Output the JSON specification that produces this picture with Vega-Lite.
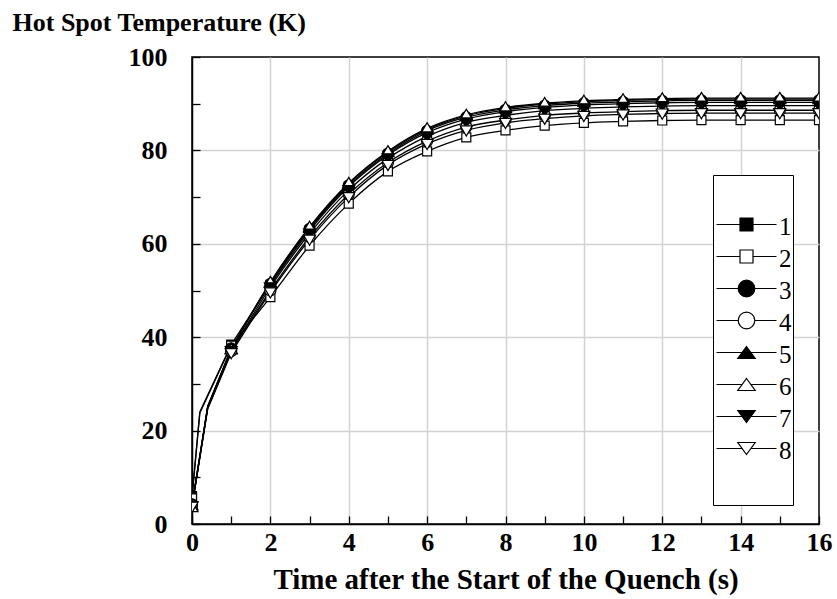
{
  "$schema": "https://vega.github.io/schema/vega-lite/v6.json",
  "width": 627,
  "height": 467,
  "autosize": "none",
  "padding": {"left": 192, "top": 57, "right": 18, "bottom": 75},
  "background": "white",
  "data": {"values": [
    {"s":"1","t":0,"v":6.0},{"s":"1","t":0.2,"v":24.0},{"s":"1","t":1,"v":38.4},{"s":"1","t":2,"v":51.2},{"s":"1","t":3,"v":62.8},{"s":"1","t":4,"v":72.2},{"s":"1","t":5,"v":79.0},{"s":"1","t":6,"v":83.8},{"s":"1","t":7,"v":86.7},{"s":"1","t":8,"v":88.3},{"s":"1","t":9,"v":89.2},{"s":"1","t":10,"v":89.7},{"s":"1","t":11,"v":90.0},{"s":"1","t":12,"v":90.2},{"s":"1","t":13,"v":90.3},{"s":"1","t":14,"v":90.3},{"s":"1","t":15,"v":90.3},{"s":"1","t":16,"v":90.3},
    {"s":"2","t":0,"v":5.5},{"s":"2","t":0.2,"v":23.8},{"s":"2","t":1,"v":38.2},{"s":"2","t":2,"v":48.6},{"s":"2","t":3,"v":59.6},{"s":"2","t":4,"v":68.6},{"s":"2","t":5,"v":75.5},{"s":"2","t":6,"v":79.8},{"s":"2","t":7,"v":82.8},{"s":"2","t":8,"v":84.3},{"s":"2","t":9,"v":85.3},{"s":"2","t":10,"v":85.9},{"s":"2","t":11,"v":86.2},{"s":"2","t":12,"v":86.4},{"s":"2","t":13,"v":86.5},{"s":"2","t":14,"v":86.5},{"s":"2","t":15,"v":86.5},{"s":"2","t":16,"v":86.5},
    {"s":"3","t":0,"v":4.2},{"s":"3","t":0.4,"v":25.0},{"s":"3","t":1,"v":37.6},{"s":"3","t":2,"v":51.4},{"s":"3","t":3,"v":63.2},{"s":"3","t":4,"v":72.5},{"s":"3","t":5,"v":79.3},{"s":"3","t":6,"v":84.2},{"s":"3","t":7,"v":87.1},{"s":"3","t":8,"v":88.7},{"s":"3","t":9,"v":89.6},{"s":"3","t":10,"v":90.1},{"s":"3","t":11,"v":90.4},{"s":"3","t":12,"v":90.6},{"s":"3","t":13,"v":90.7},{"s":"3","t":14,"v":90.7},{"s":"3","t":15,"v":90.7},{"s":"3","t":16,"v":90.7},
    {"s":"4","t":0,"v":4.0},{"s":"4","t":0.4,"v":24.8},{"s":"4","t":1,"v":37.0},{"s":"4","t":2,"v":50.0},{"s":"4","t":3,"v":61.4},{"s":"4","t":4,"v":70.6},{"s":"4","t":5,"v":77.4},{"s":"4","t":6,"v":82.0},{"s":"4","t":7,"v":85.0},{"s":"4","t":8,"v":86.5},{"s":"4","t":9,"v":87.5},{"s":"4","t":10,"v":88.0},{"s":"4","t":11,"v":88.3},{"s":"4","t":12,"v":88.5},{"s":"4","t":13,"v":88.6},{"s":"4","t":14,"v":88.6},{"s":"4","t":15,"v":88.6},{"s":"4","t":16,"v":88.6},
    {"s":"5","t":0,"v":4.0},{"s":"5","t":0.4,"v":25.2},{"s":"5","t":1,"v":37.5},{"s":"5","t":2,"v":51.7},{"s":"5","t":3,"v":63.4},{"s":"5","t":4,"v":72.8},{"s":"5","t":5,"v":79.6},{"s":"5","t":6,"v":84.5},{"s":"5","t":7,"v":87.4},{"s":"5","t":8,"v":89.0},{"s":"5","t":9,"v":89.9},{"s":"5","t":10,"v":90.4},{"s":"5","t":11,"v":90.7},{"s":"5","t":12,"v":90.9},{"s":"5","t":13,"v":91.0},{"s":"5","t":14,"v":91.0},{"s":"5","t":15,"v":91.0},{"s":"5","t":16,"v":91.0},
    {"s":"6","t":0,"v":3.6},{"s":"6","t":0.4,"v":25.2},{"s":"6","t":1,"v":37.4},{"s":"6","t":2,"v":51.8},{"s":"6","t":3,"v":63.6},{"s":"6","t":4,"v":73.0},{"s":"6","t":5,"v":79.8},{"s":"6","t":6,"v":84.7},{"s":"6","t":7,"v":87.6},{"s":"6","t":8,"v":89.2},{"s":"6","t":9,"v":90.1},{"s":"6","t":10,"v":90.6},{"s":"6","t":11,"v":90.9},{"s":"6","t":12,"v":91.1},{"s":"6","t":13,"v":91.2},{"s":"6","t":14,"v":91.2},{"s":"6","t":15,"v":91.2},{"s":"6","t":16,"v":91.2},
    {"s":"7","t":0,"v":3.8},{"s":"7","t":0.4,"v":24.9},{"s":"7","t":1,"v":37.0},{"s":"7","t":2,"v":50.7},{"s":"7","t":3,"v":62.2},{"s":"7","t":4,"v":71.5},{"s":"7","t":5,"v":78.3},{"s":"7","t":6,"v":83.0},{"s":"7","t":7,"v":86.0},{"s":"7","t":8,"v":87.5},{"s":"7","t":9,"v":88.5},{"s":"7","t":10,"v":89.0},{"s":"7","t":11,"v":89.3},{"s":"7","t":12,"v":89.5},{"s":"7","t":13,"v":89.6},{"s":"7","t":14,"v":89.6},{"s":"7","t":15,"v":89.6},{"s":"7","t":16,"v":89.6},
    {"s":"8","t":0,"v":3.7},{"s":"8","t":0.4,"v":24.6},{"s":"8","t":1,"v":36.6},{"s":"8","t":2,"v":49.6},{"s":"8","t":3,"v":60.9},{"s":"8","t":4,"v":70.0},{"s":"8","t":5,"v":76.9},{"s":"8","t":6,"v":81.4},{"s":"8","t":7,"v":84.3},{"s":"8","t":8,"v":85.9},{"s":"8","t":9,"v":86.8},{"s":"8","t":10,"v":87.4},{"s":"8","t":11,"v":87.7},{"s":"8","t":12,"v":87.9},{"s":"8","t":13,"v":88.0},{"s":"8","t":14,"v":88.0},{"s":"8","t":15,"v":88.0},{"s":"8","t":16,"v":88.0}
  ]},
  "encoding": {
    "x": {"field": "t", "type": "quantitative",
      "scale": {"domain": [0, 16], "nice": false, "zero": false},
      "axis": {
        "title": "Time after the Start of the Quench (s)",
        "titleFontSize": 29,
        "values": [0,1,2,3,4,5,6,7,8,9,10,11,12,13,14,15,16],
        "labelExpr": "datum.value % 2 == 0 ? datum.label : ''",
        "grid": true,
        "gridColor": {"condition": {"test": "datum.value % 2 == 0 && datum.value > 0 && datum.value < 16", "value": "#d2d2d2"}, "value": "transparent"},
        "gridWidth": 1.5,
        "tickSize": -8,
        "labelPadding": 13,
        "titleY": 64,
        "titleBaseline": "alphabetic"
      }
    },
    "y": {"field": "v", "type": "quantitative",
      "scale": {"domain": [0, 100], "nice": false, "zero": false},
      "axis": {
        "title": "Hot Spot Temperature (K)",
        "values": [0,10,20,30,40,50,60,70,80,90,100],
        "labelExpr": "datum.value % 20 == 0 ? datum.label : ''",
        "grid": true,
        "gridColor": {"condition": {"test": "datum.value % 20 == 0 && datum.value > 0 && datum.value < 100", "value": "#d2d2d2"}, "value": "transparent"},
        "gridWidth": 1.5,
        "tickSize": -8,
        "labelPadding": 33,
        "titleAngle": 0,
        "titleAlign": "left",
        "titleBaseline": "alphabetic",
        "titleX": -180,
        "titleY": -27
      }
    }
  },
  "layer": [
    {
      "transform": [{"filter": "datum.t <= 1"}],
      "mark": {"type": "line", "color": "black", "strokeWidth": 1.3, "interpolate": "linear", "clip": true},
      "encoding": {"detail": {"field": "s"}}
    },
    {
      "transform": [{"filter": "datum.t >= 1"}],
      "mark": {"type": "line", "color": "black", "strokeWidth": 1.3, "interpolate": "monotone", "clip": true},
      "encoding": {"detail": {"field": "s"}}
    },
    {
      "transform": [{"filter": "datum.t == floor(datum.t)"}],
      "mark": {"type": "point", "filled": true, "stroke": "black", "strokeWidth": 1.2, "size": 144, "opacity": 1, "clip": true},
      "encoding": {
        "shape": {"field": "s", "type": "nominal", "legend": null,
          "scale": {"domain": ["1","2","3","4","5","6","7","8"], "range": [
            "M-0.75,-0.75H0.75V0.75H-0.75Z",
            "M-0.75,-0.75H0.75V0.75H-0.75Z",
            "M-0.92,0A0.92,0.92,0,1,0,0.92,0A0.92,0.92,0,1,0,-0.92,0Z",
            "M-0.92,0A0.92,0.92,0,1,0,0.92,0A0.92,0.92,0,1,0,-0.92,0Z",
            "M0,-0.95L1,0.75L-1,0.75Z",
            "M0,-0.95L1,0.75L-1,0.75Z",
            "M0,0.95L1,-0.75L-1,-0.75Z",
            "M0,0.95L1,-0.75L-1,-0.75Z"
          ]}},
        "fill": {"field": "s", "type": "nominal", "legend": null,
          "scale": {"domain": ["1","2","3","4","5","6","7","8"], "range": ["black","white","black","white","black","white","black","white"]}}
      }
    },
    {
      "transform": [{"filter": "datum.t == 16"}],
      "mark": {"type": "point", "filled": true, "stroke": "black", "size": 0, "clip": true},
      "encoding": {
        "shape": {"field": "s", "type": "nominal",
          "scale": {"domain": ["1","2","3","4","5","6","7","8"], "range": [
            "M-3,0H-0.65M0.65,0H3M-0.65,-0.65H0.65V0.65H-0.65Z",
            "M-3,0H-0.65M0.65,0H3M-0.65,-0.65H0.65V0.65H-0.65Z",
            "M-3,0H-0.83M0.83,0H3M-0.83,0A0.83,0.83,0,1,0,0.83,0A0.83,0.83,0,1,0,-0.83,0Z",
            "M-3,0H-0.83M0.83,0H3M-0.83,0A0.83,0.83,0,1,0,0.83,0A0.83,0.83,0,1,0,-0.83,0Z",
            "M-3,0H-0.435M0.435,0H3M0,-0.6L0.87,0.6L-0.87,0.6Z",
            "M-3,0H-0.435M0.435,0H3M0,-0.6L0.87,0.6L-0.87,0.6Z",
            "M-3,0H-0.435M0.435,0H3M0,0.6L0.87,-0.6L-0.87,-0.6Z",
            "M-3,0H-0.435M0.435,0H3M0,0.6L0.87,-0.6L-0.87,-0.6Z"
          ]},
          "legend": {"title": " ", "orient": "none", "legendX": 521, "legendY": 118,
            "labelExpr": "datum.label == '8' ? ['8', ' ', ' '] : datum.label",
            "encode": {"labels": {"update": {"dy": {"value": -10}, "lineHeight": {"value": 20}}}}}
        },
        "fill": {"field": "s", "type": "nominal",
          "scale": {"domain": ["1","2","3","4","5","6","7","8"], "range": ["black","white","black","white","black","white","black","white"]},
          "legend": {"title": " ", "orient": "none", "legendX": 521, "legendY": 118,
            "labelExpr": "datum.label == '8' ? ['8', ' ', ' '] : datum.label",
            "encode": {"labels": {"update": {"dy": {"value": -10}, "lineHeight": {"value": 20}}}}}
        }
      }
    }
  ],
  "resolve": {"scale": {"shape": "independent", "fill": "independent"}},
  "config": {
    "view": {"stroke": "black", "strokeWidth": 1.5},
    "axis": {
      "domainColor": "black", "domainWidth": 1.5,
      "tickColor": "black", "tickWidth": 1.3,
      "labelFont": "Liberation Serif", "labelFontSize": 26, "labelFontWeight": "bold", "labelColor": "black",
      "titleFont": "Liberation Serif", "titleFontSize": 26, "titleFontWeight": "bold", "titleColor": "black",
      "labelFlush": false, "labelOverlap": false, "labelBound": false
    },
    "legend": {
      "symbolSize": 400, "symbolStrokeColor": "black", "symbolStrokeWidth": 1.2, "symbolOpacity": 1,
      "symbolOffset": 20,
      "labelFont": "Liberation Serif", "labelFontSize": 25, "labelColor": "black", "labelBaseline": "top",
      "labelOffset": 20, "rowPadding": 4, "padding": 1,
      "titleFontSize": 20, "titlePadding": 16,
      "strokeColor": "black", "fillColor": "white", "labelLimit": 0
    }
  }
}
